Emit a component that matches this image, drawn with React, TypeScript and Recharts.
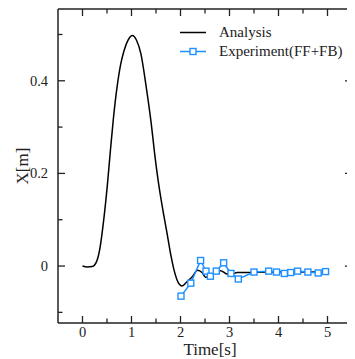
import React from 'react';
import { LineChart, Line, XAxis, YAxis, Legend } from 'recharts';

const analysisTime = [0, 0.1, 0.2, 0.28, 0.35, 0.44, 0.51, 0.57, 0.63, 0.71, 0.78, 0.84, 0.93, 1.02, 1.1, 1.19, 1.3, 1.4, 1.47, 1.55, 1.65, 1.73, 1.8, 1.86, 1.93, 1.98, 2.03, 2.13, 2.24, 2.35, 2.44, 2.51, 2.58, 2.68, 2.82, 2.92, 3.02, 3.16, 3.4, 3.8, 4.5, 5.0];
const analysisX = [0, -0.002, -0.001, 0.008, 0.035, 0.106, 0.178, 0.25, 0.318, 0.39, 0.436, 0.462, 0.488, 0.498, 0.488, 0.459, 0.387, 0.31, 0.245, 0.18, 0.115, 0.068, 0.025, -0.005, -0.03, -0.04, -0.043, -0.034, -0.023, -0.009, -0.014, -0.024, -0.023, -0.016, -0.01, -0.016, -0.019, -0.014, -0.014, -0.013, -0.013, -0.013];

const expTime = [2.01, 2.21, 2.41, 2.52, 2.61, 2.73, 2.88, 3.03, 3.18, 3.5, 3.8, 3.96, 4.12, 4.25, 4.39, 4.6, 4.81, 4.96];
const expX = [-0.065, -0.037, 0.012, -0.011, -0.022, -0.011, 0.007, -0.016, -0.028, -0.013, -0.011, -0.013, -0.016, -0.014, -0.011, -0.013, -0.015, -0.012];

const xTicks = [0, 0.5, 1, 1.5, 2, 2.5, 3, 3.5, 4, 4.5, 5];
const yTicks = [-0.1, 0, 0.1, 0.2, 0.3, 0.4, 0.5];
const xDomain = [-0.5, 5.5];
const yDomain = [-0.123, 0.555];

const analysisData = analysisTime.map((t, i) => ({ t, v: analysisX[i] }));
const expData = expTime.map((t, i) => ({ t, v: expX[i] }));

const FONT = '"Liberation Serif", "Times New Roman", serif';
const AXIS = '#222';
const BLUE = '#1E90FF';

const isMajorX = (v: number) => Math.abs(v - Math.round(v)) < 1e-6;
const isMajorY = (v: number) => Math.abs(Math.round(v * 10) % 2) === 0;
const fmtY = (v: number) => (Math.abs(v) < 1e-9 ? '0' : v.toFixed(1));

const BottomTick = (props: any) => {
  const { x, y, payload } = props;
  const major = isMajorX(payload.value);
  return (
    <g>
      <line x1={x} x2={x} y1={y} y2={y - (major ? 7 : 4.5)} stroke={AXIS} strokeWidth={1.3} />
      {major && (
        <text x={x} y={y + 14} textAnchor="middle" fontFamily={FONT} fontSize={14.5} fill="#222">
          {Math.round(payload.value)}
        </text>
      )}
    </g>
  );
};

const TopTick = (props: any) => {
  const { x, y, payload } = props;
  const major = isMajorX(payload.value);
  return <line x1={x} x2={x} y1={y} y2={y + (major ? 7 : 4.5)} stroke={AXIS} strokeWidth={1.3} />;
};

const LeftTick = (props: any) => {
  const { x, y, payload } = props;
  const major = isMajorY(payload.value);
  return (
    <g>
      <line x1={x} x2={x + (major ? 7 : 4.5)} y1={y} y2={y} stroke={AXIS} strokeWidth={1.3} />
      {major && (
        <text x={x - 10} y={y + 5} textAnchor="end" fontFamily={FONT} fontSize={14.5} fill="#222">
          {fmtY(payload.value)}
        </text>
      )}
    </g>
  );
};

const RightTick = (props: any) => {
  const { x, y, payload } = props;
  const major = isMajorY(payload.value);
  return <line x1={x} x2={x - (major ? 7 : 4.5)} y1={y} y2={y} stroke={AXIS} strokeWidth={1.3} />;
};

const SquareDot = (props: any) => {
  const { cx, cy, index } = props;
  if (cx == null || cy == null) return <g key={index} />;
  return <rect key={index} x={cx - 3} y={cy - 3} width={6} height={6} fill="#fff" stroke={BLUE} strokeWidth={1.4} />;
};

const LegendContent = () => (
  <div style={{ fontFamily: FONT, fontSize: 15, color: '#222' }}>
    <div style={{ display: 'flex', alignItems: 'center', height: 19 }}>
      <svg width={46} height={19}>
        <line x1={7} x2={33} y1={9.5} y2={9.5} stroke="#000" strokeWidth={1.5} />
      </svg>
      <span style={{ lineHeight: '19px' }}>Analysis</span>
    </div>
    <div style={{ display: 'flex', alignItems: 'center', height: 19 }}>
      <svg width={46} height={19}>
        <line x1={7} x2={33} y1={9.5} y2={9.5} stroke={BLUE} strokeWidth={1.5} />
        <rect x={17} y={6.5} width={6} height={6} fill="#fff" stroke={BLUE} strokeWidth={1.4} />
      </svg>
      <span style={{ lineHeight: '19px' }}>Experiment(FF+FB)</span>
    </div>
  </div>
);

export default function App() {
  return (
    <LineChart width={347} height={351} margin={{ top: 0, right: 2, left: 0, bottom: 0 }}>
      <XAxis
        xAxisId={0}
        type="number"
        dataKey="t"
        domain={xDomain}
        ticks={xTicks}
        interval={0}
        allowDataOverflow
        height={36}
        tickSize={0}
        tickMargin={0}
        tickLine={false}
        axisLine={{ stroke: AXIS, strokeWidth: 1.5 }}
        tick={BottomTick}
        label={{ value: 'Time[s]', position: 'insideBottom', offset: 4, dx: 5, fontFamily: FONT, fontSize: 17, fill: '#222' }}
      />
      <XAxis
        xAxisId="top"
        orientation="top"
        type="number"
        dataKey="t"
        domain={xDomain}
        ticks={xTicks}
        interval={0}
        allowDataOverflow
        height={1}
        tickSize={0}
        tickMargin={0}
        tickLine={false}
        axisLine={{ stroke: AXIS, strokeWidth: 1.5 }}
        tick={TopTick}
      />
      <YAxis
        yAxisId={0}
        type="number"
        domain={yDomain}
        ticks={yTicks}
        interval={0}
        allowDataOverflow
        width={50}
        tickSize={0}
        tickMargin={0}
        tickLine={false}
        axisLine={{ stroke: AXIS, strokeWidth: 1.5 }}
        tick={LeftTick}
        label={{ value: 'X[m]', angle: -90, position: 'insideLeft', offset: 14, fontFamily: FONT, fontSize: 17, fill: '#222', style: { textAnchor: 'middle' } }}
      />
      <YAxis
        yAxisId="right"
        orientation="right"
        type="number"
        domain={yDomain}
        ticks={yTicks}
        interval={0}
        allowDataOverflow
        width={1}
        tickSize={0}
        tickMargin={0}
        tickLine={false}
        axisLine={{ stroke: AXIS, strokeWidth: 1.5 }}
        tick={RightTick}
      />
      <Legend
        verticalAlign="middle"
        align="center"
        layout="horizontal"
        wrapperStyle={{ position: 'absolute', left: 165, top: 15, width: 'auto', height: 'auto' }}
        content={LegendContent}
      />
      <Line
        xAxisId="top"
        yAxisId="right"
        data={analysisData}
        dataKey="v"
        type="monotone"
        stroke="none"
        strokeWidth={0}
        dot={false}
        activeDot={false}
        isAnimationActive={false}
        legendType="none"
      />
      <Line
        data={analysisData}
        dataKey="v"
        type="monotone"
        stroke="#000"
        strokeWidth={1.5}
        dot={false}
        isAnimationActive={false}
        legendType="line"
        name="Analysis"
      />
      <Line
        data={expData}
        dataKey="v"
        type="linear"
        stroke={BLUE}
        strokeWidth={1.5}
        dot={SquareDot}
        isAnimationActive={false}
        name="Experiment(FF+FB)"
      />
    </LineChart>
  );
}
